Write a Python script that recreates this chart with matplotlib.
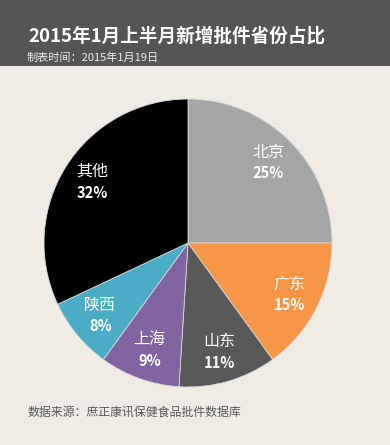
import numpy as np
import matplotlib
matplotlib.use("Agg")
import matplotlib.pyplot as plt
from matplotlib.patches import Rectangle

plt.rcParams['font.family'] = ['Noto Sans CJK SC', 'DejaVu Sans']

title = "2015年1月上半月新增批件省份占比"
subtitle = "制表时间：2015年1月19日"
source = "数据来源：庶正康讯保健食品批件数据库"

provinces = ["北京", "广东", "山东", "上海", "陕西", "其他"]
shares = [25, 15, 11, 9, 8, 32]
colors = ["#A5A5A5", "#F79646", "#595959", "#8064A2", "#4BACC6", "#000000"]

W, H = 390, 445
fig = plt.figure(figsize=(W / 100, H / 100), dpi=100)
fig.patch.set_facecolor("#EFECE5")

# title bar
fig.add_artist(Rectangle((0, 1 - 65.5 / H), 1, 65.5 / H, transform=fig.transFigure,
                         facecolor="#555555", edgecolor="none", zorder=0))
fig.text(28 / W, 1 - 36 / H, title, color="white", fontsize=13.4, fontweight="bold",
         ha="left", va="center")
fig.text(27 / W, 1 - 58 / H, subtitle, color="#EEEEEE", fontsize=8,
         ha="left", va="center")
fig.text(27 / W, 1 - 412 / H, source, color="#595959", fontsize=8.6,
         ha="left", va="center")

# pie
cx, cy, R = 188, 243, 144
ax = fig.add_axes([(cx - R) / W, (H - cy - R) / H, 2 * R / W, 2 * R / H])
wedges, _ = ax.pie(shares, colors=colors, startangle=90, counterclock=False, radius=1,
                   wedgeprops=dict(linewidth=0.6, edgecolor="#D8D8D8"))
ax.set_xlim(-1, 1)
ax.set_ylim(-1, 1)
ax.axis("off")

off = 10.5 / R
for w, name, v in zip(wedges, provinces, shares):
    mid = np.deg2rad((w.theta1 + w.theta2) / 2)
    x, y = 0.79 * np.cos(mid), 0.79 * np.sin(mid)
    ax.text(x, y + off, name, color="white", fontsize=11.5, ha="center", va="center")
    ax.text(x, y - off, f"{v}%", color="white", fontsize=10.5, fontweight="semibold",
            ha="center", va="center")

fig.savefig("out.png", dpi=100, facecolor=fig.get_facecolor())
